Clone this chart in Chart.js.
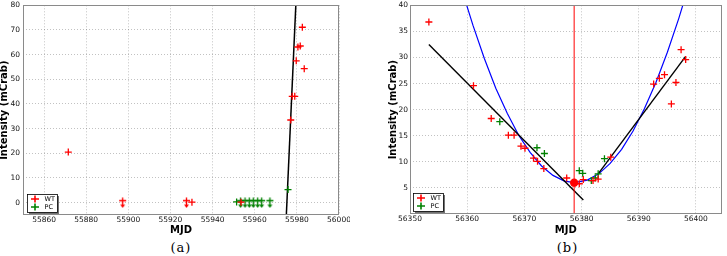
<!DOCTYPE html>
<html><head><meta charset="utf-8">
<script src="https://cdn.jsdelivr.net/npm/chart.js@4.4.0/dist/chart.umd.min.js"></script>
<style>
html,body{margin:0;padding:0;background:#fff;}
body{width:727px;height:256px;position:relative;overflow:hidden;}
.box{position:absolute;top:0;height:240px;}
.cap{position:absolute;top:240px;font-family:"DejaVu Serif";font-size:13px;width:60px;text-align:center;color:#000;letter-spacing:1px;}
</style></head><body>
<div class="box" style="left:0;width:350px"><canvas id="ca"></canvas></div>
<div class="box" style="left:360px;width:367px"><canvas id="cb"></canvas></div>
<div class="cap" style="left:151px">(a)</div>
<div class="cap" style="left:537.5px">(b)</div>
<script>
// ---- Panel (a) data ----
const xTicksA = [55860, 55880, 55900, 55920, 55940, 55960, 55980, 56000];
const yTicksA = [0, 10, 20, 30, 40, 50, 60, 70, 80];
const wtMjdA = [55871.5, 55930.2, 55953.5, 55977.1, 55977.8, 55979.0, 55979.7, 55980.5, 55981.6, 55982.6, 55983.5];
const wtIntA = [20.5, 0.2, 0.2, 33.5, 43.1, 43.1, 57.5, 63.1, 63.5, 71.1, 54.3];
const wtUlMjdA = [55897.3, 55927.6];
const wtUlIntA = [0, 0];
const pcMjdA = [55951.4, 55975.8];
const pcIntA = [0.3, 5.3];
const pcUlMjdA = [55953.3, 55955.4, 55957.4, 55959.3, 55961.4, 55963.3, 55967.2];
const pcUlIntA = [0, 0, 0, 0, 0, 0, 0];
const fitMjdA = [55975.0, 55979.5];
const fitIntA = [-5, 80];

// ---- Panel (b) data ----
const xTicksB = [56350, 56360, 56370, 56380, 56390, 56400];
const yTicksB = [5, 10, 15, 20, 25, 30, 35, 40];
const wtMjdB = [56353.3, 56361.1, 56364.2, 56367.2, 56368.2, 56369.4, 56370.1, 56371.6, 56372.3, 56373.4, 56377.4, 56379.6, 56380.3, 56382.0, 56382.9, 56385.1, 56392.6, 56393.6, 56394.5, 56395.7, 56396.5, 56397.4, 56398.2];
const wtIntB = [36.8, 24.6, 18.3, 15.1, 15.1, 13.0, 12.6, 10.7, 10.1, 8.7, 6.9, 5.8, 6.6, 6.4, 6.7, 10.9, 24.9, 26.0, 26.7, 21.1, 25.2, 31.5, 29.6];
const pcMjdB = [56365.7, 56372.2, 56373.5, 56379.6, 56380.2, 56381.7, 56382.4, 56382.9, 56384.0];
const pcIntB = [17.7, 12.7, 11.6, 8.3, 7.8, 6.4, 6.9, 7.7, 10.6];
const minMjdB = [56378.7];
const minIntB = [6.0];
const vlineMjdB = [56378.7, 56378.7];
const vlineIntB = [0, 40];
const curveMjdB = [56359.8, 56361, 56363, 56365, 56367, 56369, 56371, 56373, 56375, 56377, 56378.8, 56381, 56383, 56385, 56387, 56389, 56391, 56393, 56395, 56397, 56398];
const curveIntB = [40.4, 36.2, 29.8, 24.1, 19.3, 15.1, 11.8, 9.2, 7.4, 6.3, 6.0, 6.5, 7.7, 9.7, 12.4, 15.9, 20.2, 25.2, 31.0, 37.5, 41.1];
const line1MjdB = [56353.3, 56380.3];
const line1IntB = [32.5, 2.7];
const line2MjdB = [56382.9, 56398.2];
const line2IntB = [7.7, 30.2];

const legendLabels = ['WT', 'PC'];
const RED = '#ff0000', GREEN = '#008000', BLUE = '#0000ff';
const legendColors = [RED, GREEN];

const toPts = (xs, ys) => xs.map((x, i) => ({x: x, y: ys[i]}));

function arrowImg(color) {
  const c = document.createElement('canvas');
  c.width = 9; c.height = 11;
  const g = c.getContext('2d');
  g.strokeStyle = color; g.fillStyle = color; g.lineWidth = 1.4;
  g.beginPath();
  g.moveTo(4.5, 0.5); g.lineTo(4.5, 8.5);
  g.moveTo(1, 3.5); g.lineTo(8, 3.5);
  g.stroke();
  g.beginPath();
  g.moveTo(2, 7.5); g.lineTo(7, 7.5); g.lineTo(4.5, 10.8); g.closePath(); g.fill();
  return c;
}

const tickFont = {family: 'DejaVu Sans', size: 7.5};
const titleFont = {family: 'DejaVu Sans', size: 10, weight: 'bold', lineHeight: 1};
const gridOpts = {color: 'rgba(0,0,0,0.3)', lineWidth: 0.8, drawTicks: false};
const borderOpts = {display: false, dash: [1, 2]};

function xScale(min, max, ticks, h) {
  return {
    type: 'linear', min: min, max: max,
    afterBuildTicks: s => { s.ticks = ticks.map(v => ({value: v})); },
    afterFit: s => { s.height = h; s.paddingLeft = 0; s.paddingRight = 0; },
    grid: gridOpts, border: borderOpts,
    ticks: {font: tickFont, color: '#111', padding: 1, maxRotation: 0, autoSkip: false, callback: v => String(v)},
    title: {display: true, text: 'MJD', font: titleFont, color: '#000', padding: {top: 0, bottom: 5}}
  };
}
function yScale(min, max, ticks, w, titlePad, labelPad) {
  return {
    type: 'linear', min: min, max: max,
    afterBuildTicks: s => { s.ticks = ticks.map(v => ({value: v})); },
    afterFit: s => { s.width = w; s.paddingTop = 0; s.paddingBottom = 0; },
    grid: gridOpts, border: borderOpts,
    ticks: {font: tickFont, color: '#111', padding: labelPad, autoSkip: false, callback: v => String(v)},
    title: {display: true, text: 'Intensity (mCrab)', font: titleFont, color: '#000', padding: {top: titlePad, bottom: 0}}
  };
}

const framePlugin = {
  id: 'frame',
  afterDatasetsDraw(c) {
    const {ctx, chartArea: a} = c;
    ctx.save();
    ctx.strokeStyle = '#8a8a8a'; ctx.lineWidth = 1;
    ctx.strokeRect(Math.round(a.left) + 0.5, Math.round(a.top) + 0.5, Math.round(a.right - a.left) - 1, Math.round(a.bottom - a.top) - 1);
    ctx.restore();
  }
};
const legendPlugin = {
  id: 'boxLegend',
  afterDraw(c, args, o) {
    const {ctx, chartArea: a} = c;
    const x = Math.round(a.left + o.dx) + 0.5, y = Math.round(a.bottom - 21) + 0.5, w = 30, h = 18;
    ctx.save();
    ctx.fillStyle = 'rgba(0,0,0,0.55)';
    ctx.fillRect(x + 1.5, y + 1.5, w, h);
    ctx.fillStyle = '#fff';
    ctx.fillRect(x, y, w, h);
    ctx.strokeStyle = '#000'; ctx.lineWidth = 0.8;
    ctx.strokeRect(x, y, w, h);
    legendLabels.forEach((lab, i) => {
      const py = y + 4.5 + i * 8, px = x + 7.5;
      ctx.strokeStyle = legendColors[i]; ctx.lineWidth = 1.6;
      ctx.beginPath();
      ctx.moveTo(px - 4, py); ctx.lineTo(px + 4, py);
      ctx.moveTo(px, py - 3.5); ctx.lineTo(px, py + 3.5);
      ctx.stroke();
      ctx.fillStyle = '#000';
      ctx.font = '6.5px "DejaVu Sans"';
      ctx.textBaseline = 'middle'; ctx.textAlign = 'left';
      ctx.fillText(lab, x + 17, py);
    });
    ctx.restore();
  }
};

function marker(label, xs, ys, color, style) {
  return {label: label, data: toPts(xs, ys), pointStyle: style, pointRadius: style === 'cross' ? 3.5 : 4,
    borderColor: color, backgroundColor: color, pointBorderWidth: 1.3, showLine: false};
}
function line(label, xs, ys, color, width) {
  return {label: label, data: toPts(xs, ys), showLine: true, borderColor: color, borderWidth: width,
    pointRadius: 0, pointHoverRadius: 0, clip: 0, tension: 0, fill: false};
}

const common = (padRight, legendDx) => ({
  responsive: true, maintainAspectRatio: false, animation: false, devicePixelRatio: 1,
  events: [],
  layout: {padding: {left: 0, top: 3, right: padRight, bottom: 0}},
  plugins: {legend: {display: false}, tooltip: {enabled: false}, boxLegend: {dx: legendDx}}
});

const optA = common(11, 4);
optA.scales = {x: xScale(55850, 56000, xTicksA, 25), y: yScale(-5, 80, yTicksA, 23, -1, 3)};
new Chart(document.getElementById('ca'), {
  type: 'scatter',
  data: {datasets: [
    marker('WT', wtMjdA, wtIntA, RED, 'cross'),
    marker('WT upper limits', wtUlMjdA, wtUlIntA, RED, arrowImg(RED)),
    marker('PC', pcMjdA, pcIntA, GREEN, 'cross'),
    marker('PC upper limits', pcUlMjdA, pcUlIntA, GREEN, arrowImg(GREEN)),
    line('fit', fitMjdA, fitIntA, '#000', 1.5)
  ]},
  options: optA,
  plugins: [framePlugin, legendPlugin]
});

const optB = common(2, 3);
optB.scales = {x: xScale(56350, 56404.5, xTicksB, 26), y: yScale(0, 40, yTicksB, 50, 28, 2)};
const minDs = marker('minimum', minMjdB, minIntB, RED, 'circle');
minDs.pointRadius = 3.5;
new Chart(document.getElementById('cb'), {
  type: 'scatter',
  data: {datasets: [
    minDs,
    marker('WT', wtMjdB, wtIntB, RED, 'cross'),
    marker('PC', pcMjdB, pcIntB, GREEN, 'cross'),
    line('vline', vlineMjdB, vlineIntB, RED, 1),
    line('line1', line1MjdB, line1IntB, '#000', 1.4),
    line('line2', line2MjdB, line2IntB, '#000', 1.4),
    line('parabola', curveMjdB, curveIntB, BLUE, 1.2)
  ]},
  options: optB,
  plugins: [framePlugin, legendPlugin]
});
</script>
</body></html>
